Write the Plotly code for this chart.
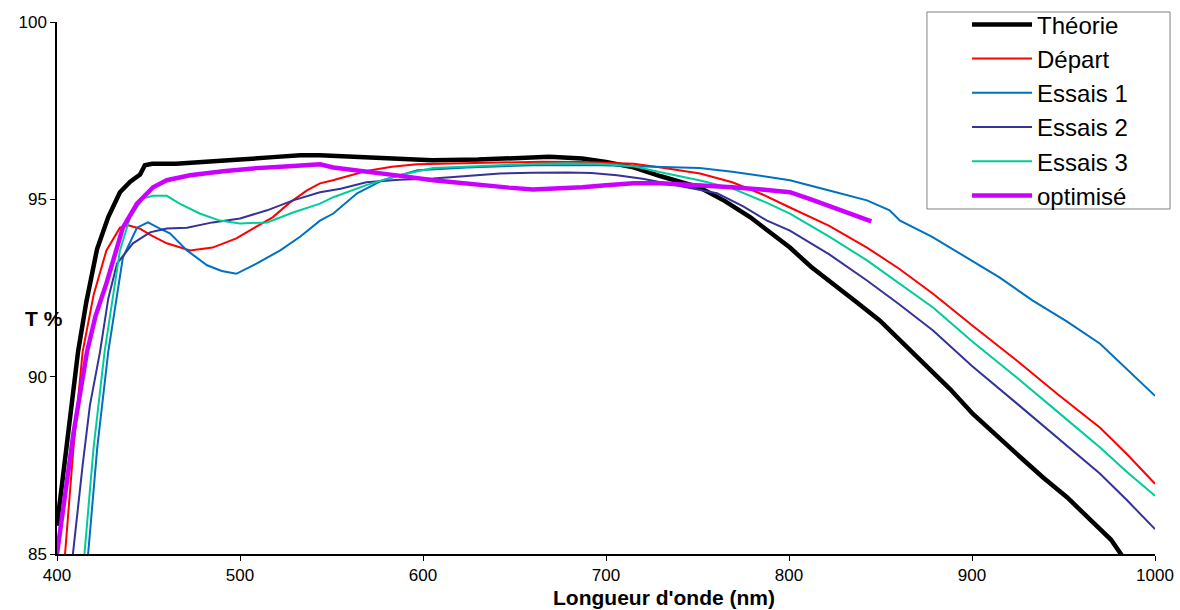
import plotly.graph_objects as go

# Wavelength (nm) / transmission (%) readings per series
theorie_x = [400, 404, 408, 411.5, 416, 421.9, 428, 434.4, 440, 445.4, 448, 452, 465, 482, 500, 518, 533, 543.7, 560, 580, 605, 630, 650, 669, 687, 700, 715, 730, 751, 765, 778.7, 790, 800.5, 812, 825, 837, 849.7, 862, 875, 888, 900.5, 913, 926, 939, 951.9, 965, 976, 982, 986]
theorie_y = [85.8, 87.5, 89.3, 90.7, 92.1, 93.6, 94.5, 95.2, 95.5, 95.7, 95.96, 96.0, 96.0, 96.05, 96.12, 96.19, 96.24, 96.24, 96.2, 96.15, 96.1, 96.12, 96.17, 96.2, 96.15, 96.05, 95.9, 95.65, 95.34, 94.95, 94.5, 94.05, 93.64, 93.1, 92.6, 92.1, 91.58, 90.97, 90.3, 89.65, 88.95, 88.35, 87.75, 87.15, 86.6, 85.95, 85.4, 84.95, 84.7]

depart_x = [400, 404.4, 409, 414, 420, 427, 434.4, 439, 445, 452, 460, 472.7, 485, 498, 508, 518, 527, 536.6, 543.7, 550.8, 569, 583, 596.7, 620, 642, 665, 687, 700, 715, 730, 742, 751.4, 769, 785, 800.5, 822, 842.6, 860, 878.7, 900, 924.6, 947, 970, 985, 1000]
depart_y = [83.5, 85.0, 88.0, 90.7, 92.3, 93.56, 94.2, 94.27, 94.18, 93.97, 93.76, 93.56, 93.64, 93.9, 94.2, 94.5, 94.9, 95.25, 95.45, 95.54, 95.8, 95.92, 95.99, 96.02, 96.05, 96.06, 96.05, 96.03, 96.0, 95.9, 95.8, 95.73, 95.48, 95.15, 94.77, 94.25, 93.64, 93.05, 92.34, 91.45, 90.45, 89.5, 88.56, 87.8, 86.98]

essais1_x = [412, 417, 422, 428, 436, 443.7, 449.7, 456, 461.7, 471, 482, 490, 498, 509, 522, 533, 543.7, 551, 564, 578, 597, 624, 660, 697, 733, 751, 769, 785, 800.5, 822, 842.6, 855, 860.7, 878, 897, 915, 933, 952, 970, 985, 1000]
essais1_y = [82.0, 85.0, 88.0, 90.7, 93.36, 94.2, 94.35, 94.18, 94.04, 93.56, 93.14, 92.98, 92.9, 93.19, 93.56, 93.95, 94.4, 94.6, 95.17, 95.54, 95.82, 95.9, 95.96, 95.96, 95.9, 95.88, 95.78, 95.65, 95.54, 95.25, 94.97, 94.69, 94.4, 93.95, 93.36, 92.8, 92.15, 91.55, 90.93, 90.2, 89.46]

essais2_x = [404, 408.7, 414, 418, 423.5, 428, 432.8, 441.5, 450.8, 460, 471, 485, 500, 514.8, 529, 543.7, 555, 569, 587, 605.5, 624, 642, 660, 678.7, 692, 706, 720, 733, 747, 760.7, 775, 788, 800.5, 822, 842.6, 860, 878.7, 900, 924.6, 947, 970, 985, 1000]
essais2_y = [82.0, 85.0, 87.5, 89.2, 90.7, 92.2, 93.19, 93.76, 94.07, 94.18, 94.2, 94.35, 94.46, 94.69, 94.97, 95.2, 95.3, 95.48, 95.55, 95.59, 95.66, 95.73, 95.75, 95.76, 95.74, 95.68, 95.58, 95.45, 95.32, 95.17, 94.8, 94.4, 94.12, 93.45, 92.71, 92.05, 91.3, 90.3, 89.24, 88.25, 87.26, 86.5, 85.7]

essais3_x = [410, 415, 420, 426, 434.4, 440, 447, 452.5, 460, 467, 478, 489, 500, 514.8, 529, 543.7, 551, 569, 587, 605.5, 624, 642, 660, 678.7, 697, 715, 733, 751, 769, 788, 800.5, 822, 842.6, 860, 878.7, 900, 924.6, 947, 970, 985, 1000]
essais3_y = [82.0, 85.0, 88.0, 90.7, 93.56, 94.5, 95.03, 95.1, 95.1, 94.88, 94.6, 94.4, 94.32, 94.35, 94.63, 94.88, 95.06, 95.4, 95.68, 95.88, 95.93, 95.96, 96.0, 96.02, 96.0, 95.93, 95.73, 95.54, 95.31, 94.9, 94.6, 93.95, 93.28, 92.65, 91.95, 91.0, 89.97, 89.0, 88.0, 87.3, 86.64]

optimise_x = [400, 404, 409, 416.4, 421, 427, 436, 443.7, 452.5, 460, 472.7, 490.7, 509, 527, 543.7, 551, 565, 578, 591, 605.5, 620, 633, 647, 660, 673, 687, 700, 715, 730, 742, 755, 769, 785, 800.5, 812, 824, 835, 845]
optimise_y = [85.0, 86.6, 88.4, 90.7, 91.7, 92.63, 94.2, 94.88, 95.34, 95.54, 95.68, 95.79, 95.88, 95.93, 95.99, 95.9, 95.82, 95.73, 95.64, 95.54, 95.46, 95.4, 95.33, 95.28, 95.3, 95.34, 95.4, 95.45, 95.45, 95.42, 95.4, 95.34, 95.28, 95.2, 95.0, 94.77, 94.58, 94.38]

x_ticks = [400, 500, 600, 700, 800, 900, 1000]
y_ticks = [85, 90, 95, 100]

series = [
    ("Théorie", theorie_x, theorie_y, "#000000", 4.5),
    ("Départ", depart_x, depart_y, "#FF0000", 2),
    ("Essais 1", essais1_x, essais1_y, "#0070C0", 2),
    ("Essais 2", essais2_x, essais2_y, "#333399", 2),
    ("Essais 3", essais3_x, essais3_y, "#00CC99", 2),
    ("optimisé", optimise_x, optimise_y, "#CC00FF", 4.5),
]

fig = go.Figure()
for name, xs, ys, color, w in series:
    fig.add_trace(go.Scatter(x=xs, y=ys, mode="lines", name=name,
                             line=dict(color=color, width=w)))

fig.update_layout(
    width=1180, height=610,
    margin=dict(l=57, r=25, t=22, b=56, autoexpand=False),
    paper_bgcolor="white", plot_bgcolor="white",
    font=dict(family="Liberation Sans, Arial, sans-serif", color="black", size=17),
    showlegend=True,
    legend=dict(x=0.8288, y=1.037, xanchor="left", yanchor="top",
                borderwidth=0, bgcolor="rgba(0,0,0,0)",
                font=dict(size=24), itemwidth=60, tracegroupgap=0),
)
# Legend frame (Excel-style box)
fig.add_shape(type="rect", xref="paper", yref="paper",
              x0=0.7923, x1=1.0137, y0=0.6485, y1=1.0188,
              line=dict(color="#808080", width=1), fillcolor="white", layer="below")
fig.update_xaxes(range=[400, 1000], tickvals=x_ticks, showgrid=False, zeroline=False,
                 showline=True, linecolor="black", linewidth=1.5,
                 ticks="outside", ticklen=5, tickcolor="black", tickfont=dict(size=17))
fig.update_yaxes(range=[85, 100], tickvals=y_ticks, showgrid=False, zeroline=False,
                 showline=True, linecolor="black", linewidth=1.5,
                 ticks="outside", ticklen=5, tickcolor="black", tickfont=dict(size=17))

fig.add_annotation(text="<b>T %</b>", xref="paper", yref="paper",
                   x=-0.0114, y=0.4436, xanchor="center", yanchor="middle",
                   showarrow=False, font=dict(size=21))
fig.add_annotation(text="<b>Longueur d'onde (nm)</b>", xref="paper", yref="paper",
                   x=0.5528, y=-0.0825, xanchor="center", yanchor="middle",
                   showarrow=False, font=dict(size=21))

fig.write_html("out.html", config={"displayModeBar": False},
               post_script="document.body.style.margin='0px';document.body.style.overflow='hidden';")
